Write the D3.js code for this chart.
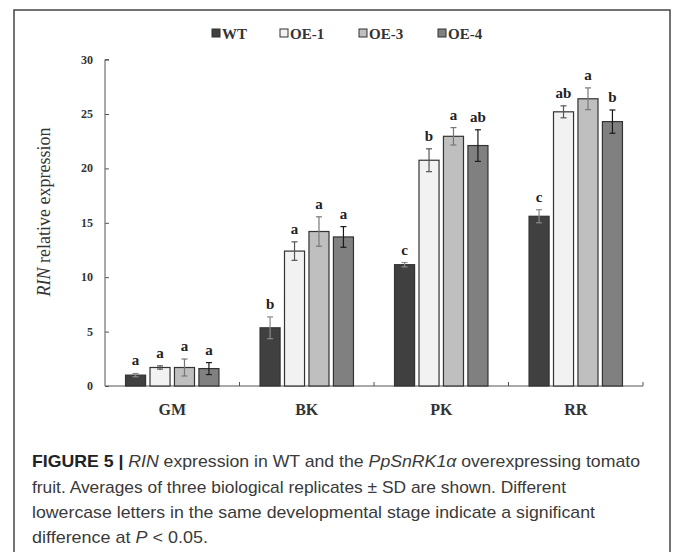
<!DOCTYPE html>
<html>
<head>
<meta charset="utf-8">
<script src="https://cdn.jsdelivr.net/npm/d3@7"></script>
<style>
  body { margin: 0; background: #fff; }
  svg { display: block; }
</style>
</head>
<body>
<div id="chart"></div>
<script>
// data
var categories = ["GM", "BK", "PK", "RR"];
var series = ["WT", "OE-1", "OE-3", "OE-4"];
var wtMean  = [1.0, 5.35, 11.15, 15.6];
var oe1Mean = [1.7, 12.4, 20.75, 25.2];
var oe3Mean = [1.7, 14.2, 22.95, 26.4];
var oe4Mean = [1.6, 13.7, 22.1, 24.3];
var wtSd  = [0.15, 1.0, 0.2, 0.6];
var oe1Sd = [0.15, 0.85, 1.05, 0.55];
var oe3Sd = [0.78, 1.35, 0.8, 1.0];
var oe4Sd = [0.55, 0.95, 1.45, 1.07];
var wtLetters  = ["a", "b", "c", "c"];
var oe1Letters = ["a", "a", "b", "ab"];
var oe3Letters = ["a", "a", "a", "a"];
var oe4Letters = ["a", "a", "ab", "b"];
var yTicks = [0, 5, 10, 15, 20, 25, 30];

var means = [wtMean, oe1Mean, oe3Mean, oe4Mean];
var sds = [wtSd, oe1Sd, oe3Sd, oe4Sd];
var letters = [wtLetters, oe1Letters, oe3Letters, oe4Letters];

var fills = ["#404040", "#f2f2f2", "#bfbfbf", "#808080"];
var errColors = ["#8a8a8a", "#555", "#777", "#1a1a1a"];

var width = 673, height = 552;
var serif = "'Liberation Serif', 'Times New Roman', serif";

var svg = d3.select("#chart").append("svg")
  .attr("width", width)
  .attr("height", height);

// outer frame
svg.append("rect")
  .attr("x", 14).attr("y", 10)
  .attr("width", 656).attr("height", 580)
  .attr("fill", "none")
  .attr("stroke", "#444")
  .attr("stroke-width", 1.5);

var x0 = d3.scaleBand()
  .domain(categories)
  .range([105, 643]);

var x1 = d3.scaleBand()
  .domain(series)
  .range([0, x0.bandwidth()])
  .paddingInner(0.18)
  .paddingOuter(0.84);

var y = d3.scaleLinear()
  .domain([0, 30])
  .range([386, 59.6]);

// flatten rows for drawing
var rows = [];
categories.forEach(function(c, ci){
  series.forEach(function(s, si){
    rows.push({cat: c, ser: s, si: si, v: means[si][ci], sd: sds[si][ci], lab: letters[si][ci]});
  });
});

// y axis
var yAxis = d3.axisRight(y).tickValues(yTicks).tickSize(4).tickFormat("");
var gy = svg.append("g")
  .attr("transform", "translate(105,0)")
  .call(yAxis);
gy.select(".domain").attr("stroke", "#555").attr("d", "M4," + y(30) + "H0V" + y(0));
gy.selectAll(".tick line").attr("stroke", "#555");

svg.selectAll("text.ytick")
  .data(yTicks)
  .enter().append("text")
  .attr("class", "ytick")
  .attr("x", 93)
  .attr("y", function(d){ return y(d) + 4; })
  .attr("text-anchor", "end")
  .attr("font-family", serif)
  .attr("font-weight", "bold")
  .attr("font-size", 12)
  .attr("fill", "#333")
  .text(function(d){ return d; });

// x axis
var xAxis = d3.axisTop(x0).tickSize(0).tickFormat("");
var gx = svg.append("g")
  .attr("transform", "translate(0," + y(0) + ")")
  .call(xAxis);
gx.select(".domain").attr("stroke", "#555").attr("d", "M105,0H643");
gx.selectAll(".tick").remove();

// boundary ticks on x axis
var bounds = categories.map(function(c){ return x0(c) + x0.bandwidth(); });
svg.selectAll("line.xtick")
  .data(bounds)
  .enter().append("line")
  .attr("class", "xtick")
  .attr("x1", function(d){ return d; })
  .attr("x2", function(d){ return d; })
  .attr("y1", y(0))
  .attr("y2", y(0) - 4)
  .attr("stroke", "#555");

svg.selectAll("text.xlab")
  .data(categories)
  .enter().append("text")
  .attr("class", "xlab")
  .attr("x", function(d){ return x0(d) + x0.bandwidth() / 2; })
  .attr("y", 415)
  .attr("text-anchor", "middle")
  .attr("font-family", serif)
  .attr("font-weight", "bold")
  .attr("font-size", 16)
  .attr("fill", "#333")
  .text(function(d){ return d; });

// bars
svg.selectAll("rect.bar")
  .data(rows)
  .enter().append("rect")
  .attr("class", "bar")
  .attr("x", function(d){ return x0(d.cat) + x1(d.ser); })
  .attr("y", function(d){ return y(d.v); })
  .attr("width", x1.bandwidth())
  .attr("height", function(d){ return y(0) - y(d.v); })
  .attr("fill", function(d){ return fills[d.si]; })
  .attr("stroke", "#333")
  .attr("stroke-width", 1.2);

// error bars
var err = svg.selectAll("g.err")
  .data(rows)
  .enter().append("g")
  .attr("class", "err")
  .attr("stroke", function(d){ return errColors[d.si]; })
  .attr("stroke-width", 1.2);
err.append("line")
  .attr("x1", function(d){ return x0(d.cat) + x1(d.ser) + x1.bandwidth() / 2; })
  .attr("x2", function(d){ return x0(d.cat) + x1(d.ser) + x1.bandwidth() / 2; })
  .attr("y1", function(d){ return y(d.v + d.sd); })
  .attr("y2", function(d){ return y(d.v - d.sd); });
[1, -1].forEach(function(sign){
  err.append("line")
    .attr("x1", function(d){ return x0(d.cat) + x1(d.ser) + x1.bandwidth() / 2 - 3; })
    .attr("x2", function(d){ return x0(d.cat) + x1(d.ser) + x1.bandwidth() / 2 + 3; })
    .attr("y1", function(d){ return y(d.v + sign * d.sd); })
    .attr("y2", function(d){ return y(d.v + sign * d.sd); });
});

// significance letters
svg.selectAll("text.sig")
  .data(rows)
  .enter().append("text")
  .attr("class", "sig")
  .attr("x", function(d){ return x0(d.cat) + x1(d.ser) + x1.bandwidth() / 2; })
  .attr("y", function(d){ return y(d.v + d.sd) - 8; })
  .attr("text-anchor", "middle")
  .attr("font-family", serif)
  .attr("font-weight", "bold")
  .attr("font-size", 15)
  .attr("fill", "#222")
  .text(function(d){ return d.lab; });

// y axis title
var yt = svg.append("text")
  .attr("transform", "translate(50,212) rotate(-90)")
  .attr("text-anchor", "middle")
  .attr("font-family", serif)
  .attr("font-size", 18)
  .attr("fill", "#333");
yt.append("tspan").attr("font-style", "italic").text("RIN");
yt.append("tspan").text(" relative expression");

// legend
var legX = [212, 280, 359, 438];
var leg = svg.selectAll("g.leg")
  .data(series)
  .enter().append("g")
  .attr("class", "leg")
  .attr("transform", function(d, i){ return "translate(" + legX[i] + ",29)"; });
leg.append("rect")
  .attr("width", 8).attr("height", 8)
  .attr("fill", function(d, i){ return fills[i]; })
  .attr("stroke", "#333")
  .attr("stroke-width", 1);
leg.append("text")
  .attr("x", 10)
  .attr("y", 9.5)
  .attr("font-family", serif)
  .attr("font-weight", "bold")
  .attr("font-size", 15)
  .attr("fill", "#333")
  .text(function(d){ return d; });

// caption
var sans = "'Liberation Sans Narrow', 'Liberation Sans', Arial, sans-serif";
var cap = svg.append("g")
  .attr("font-family", sans)
  .attr("font-size", 17)
  .attr("fill", "#3a3a3a");

var l1 = cap.append("text").attr("x", 32).attr("y", 467)
  .attr("textLength", 608).attr("lengthAdjust", "spacingAndGlyphs");
l1.append("tspan").attr("font-weight", "bold").attr("fill", "#222").text("FIGURE 5 | ");
l1.append("tspan").attr("font-style", "italic").text("RIN");
l1.append("tspan").text(" expression in WT and the ");
l1.append("tspan").attr("font-style", "italic").text("PpSnRK1\u03b1");
l1.append("tspan").text(" overexpressing tomato");

cap.append("text").attr("x", 32).attr("y", 493)
  .attr("textLength", 534).attr("lengthAdjust", "spacingAndGlyphs")
  .text("fruit. Averages of three biological replicates \u00b1 SD are shown. Different");

cap.append("text").attr("x", 32).attr("y", 518)
  .attr("textLength", 563).attr("lengthAdjust", "spacingAndGlyphs")
  .text("lowercase letters in the same developmental stage indicate a significant");

var l4 = cap.append("text").attr("x", 32).attr("y", 543)
  .attr("textLength", 176).attr("lengthAdjust", "spacingAndGlyphs");
l4.append("tspan").text("difference at ");
l4.append("tspan").attr("font-style", "italic").text("P");
l4.append("tspan").text(" < 0.05.");
</script>
</body>
</html>
